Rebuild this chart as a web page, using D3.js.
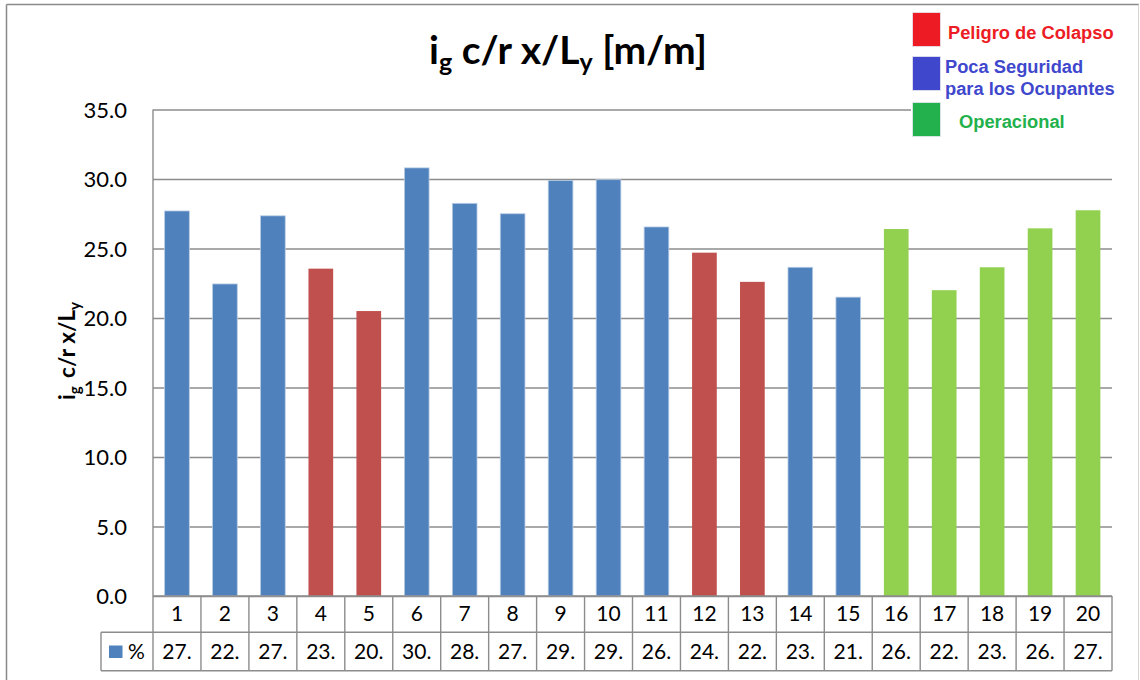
<!DOCTYPE html>
<html>
<head>
<meta charset="utf-8">
<script src="https://cdn.jsdelivr.net/npm/d3@7"></script>
<style>
  html, body { margin: 0; padding: 0; background: #fff; }
  svg { display: block; }
</style>
</head>
<body>
<svg id="chart" width="1140" height="680"></svg>
<script>
// ---------- data ----------
const categories = ["1","2","3","4","5","6","7","8","9","10","11","12","13","14","15","16","17","18","19","20"];
const values = [27.7, 22.45, 27.35, 23.55, 20.5, 30.8, 28.25, 27.5, 29.9, 29.95, 26.55, 24.7, 22.6, 23.65, 21.5, 26.4, 22.0, 23.65, 26.45, 27.75];
const tableLabels = ["27.","22.","27.","23.","20.","30.","28.","27.","29.","29.","26.","24.","22.","23.","21.","26.","22.","23.","26.","27."];
const status = ["poca","poca","poca","peligro","peligro","poca","poca","poca","poca","poca","poca","peligro","peligro","poca","poca","oper","oper","oper","oper","oper"];
const yTicks = [0, 5, 10, 15, 20, 25, 30, 35];
const legendLabels = [["Peligro de Colapso"], ["Poca Seguridad", "para los Ocupantes"], ["Operacional"]];
const seriesName = "%";

// ---------- styles ----------
const barColor = { peligro: "#C0504D", poca: "#4F81BD", oper: "#92D050" };
const legendColors = ["#ED1C24", "#3F48CC", "#22B14C"];
const gridColor = "#8c8c8c";
const font = "Lato, 'Open Sans', sans-serif";

const svg = d3.select("#chart");

// frame
svg.append("line").attr("x1", 6.5).attr("y1", 4.5).attr("x2", 1139).attr("y2", 4.5).attr("stroke", "#8a8a8a").attr("stroke-width", 1.5);
svg.append("line").attr("x1", 6.5).attr("y1", 4.5).attr("x2", 6.5).attr("y2", 680).attr("stroke", "#8a8a8a").attr("stroke-width", 1.5);
svg.append("line").attr("x1", 1138.5).attr("y1", 4.5).attr("x2", 1138.5).attr("y2", 680).attr("stroke", "#d4d4d4").attr("stroke-width", 1);

// scales
const pLeft = 153, pRight = 1112, pTop = 109.5, pBottom = 596;
const x = d3.scaleBand().domain(categories).range([pLeft, pRight]).paddingInner(0).paddingOuter(0);
const y = d3.scaleLinear().domain([0, 35]).range([pBottom, pTop]);

// gridlines via axis
const yAxis = d3.axisLeft(y).tickValues(yTicks).tickSize(-(pRight - pLeft)).tickFormat(d => d.toFixed(1)).tickPadding(26);
const gy = svg.append("g").attr("transform", `translate(${pLeft},0)`).call(yAxis);
gy.select(".domain").remove();
gy.selectAll(".tick line").attr("stroke", gridColor).attr("stroke-width", 1.4);
gy.selectAll(".tick text").attr("font-family", font).attr("font-size", 22).attr("fill", "#000").attr("dy", "0.36em");

// bars
const bw = x.bandwidth() * 0.515;
svg.append("g").selectAll("rect").data(values).join("rect")
  .attr("x", (d, i) => x(categories[i]) + (x.bandwidth() - bw) / 2)
  .attr("y", d => y(d))
  .attr("width", bw)
  .attr("height", d => y(0) - y(d))
  .attr("fill", (d, i) => barColor[status[i]])
  .attr("stroke", (d, i) => status[i] === "poca" ? "#b9cde5" : "none")
  .attr("stroke-width", 0.8);

// axis line at left (runs through table)
const tRow1 = 632.3, tRow2 = 670.7, tLeft = 101;
svg.append("line").attr("x1", pLeft).attr("x2", pLeft).attr("y1", pTop).attr("y2", tRow2).attr("stroke", gridColor).attr("stroke-width", 1.4);

// data table
const tbl = svg.append("g");
tbl.append("line").attr("x1", pLeft).attr("x2", pRight).attr("y1", pBottom).attr("y2", pBottom).attr("stroke", gridColor).attr("stroke-width", 1.4);
tbl.append("line").attr("x1", tLeft).attr("x2", pRight).attr("y1", tRow1).attr("y2", tRow1).attr("stroke", gridColor).attr("stroke-width", 1.4);
tbl.append("line").attr("x1", tLeft).attr("x2", pRight).attr("y1", tRow2).attr("y2", tRow2).attr("stroke", gridColor).attr("stroke-width", 1.4);
tbl.append("line").attr("x1", tLeft).attr("x2", tLeft).attr("y1", tRow1).attr("y2", tRow2).attr("stroke", gridColor).attr("stroke-width", 1.4);
tbl.selectAll("line.v").data(categories).join("line").attr("class", "v")
  .attr("x1", d => x(d) + x.bandwidth()).attr("x2", d => x(d) + x.bandwidth())
  .attr("y1", pBottom).attr("y2", tRow2).attr("stroke", gridColor).attr("stroke-width", 1.4);
tbl.selectAll("text.cat").data(categories).join("text").attr("class", "cat")
  .attr("x", d => x(d) + x.bandwidth() / 2).attr("y", 621)
  .attr("text-anchor", "middle").attr("font-family", font).attr("font-size", 21).text(d => d);
tbl.selectAll("text.val").data(tableLabels).join("text").attr("class", "val")
  .attr("x", (d, i) => x(categories[i]) + x.bandwidth() / 2).attr("y", 659)
  .attr("text-anchor", "middle").attr("font-family", font).attr("font-size", 21).text(d => d);
// legend key in table
tbl.append("rect").attr("x", 109).attr("y", 645.5).attr("width", 13.5).attr("height", 12.5).attr("fill", barColor.poca);
tbl.append("text").attr("x", 128).attr("y", 659).attr("font-family", font).attr("font-size", 21).text(seriesName);

// title
const title = svg.append("text").attr("x", 568).attr("y", 64).attr("text-anchor", "middle")
  .attr("font-family", font).attr("font-weight", "bold").attr("font-size", 39).attr("fill", "#000");
title.append("tspan").text("i");
title.append("tspan").attr("font-size", 25).attr("dy", 7).text("g");
title.append("tspan").attr("dy", -7).text(" c/r x/L");
title.append("tspan").attr("font-size", 25).attr("dy", 7).text("y");
title.append("tspan").attr("dy", -7).text(" [m/m]");

// y axis title
const yt = svg.append("text").attr("transform", "translate(75,351) rotate(-90)").attr("text-anchor", "middle")
  .attr("font-family", font).attr("font-weight", "bold").attr("font-size", 22.5).attr("fill", "#000");
yt.append("tspan").text("i");
yt.append("tspan").attr("font-size", 15).attr("dy", 4.5).text("g");
yt.append("tspan").attr("dy", -4.5).attr("dx", 3).text(" c/r x/L");
yt.append("tspan").attr("font-size", 15).attr("dy", 4.5).text("y");

// legend overlay
const lg = svg.append("g");
lg.append("rect").attr("x", 911).attr("y", 6).attr("width", 226).attr("height", 136).attr("fill", "#fff");
const sqY = [12.5, 56.5, 102.5];
lg.selectAll("rect.sq").data(legendColors).join("rect").attr("class", "sq")
  .attr("x", 912.5).attr("y", (d, i) => sqY[i]).attr("width", 28).attr("height", 34)
  .attr("fill", d => d).attr("stroke", "#e8e8f0").attr("stroke-width", 0.8);
const lgText = [
  { x: 948, y: 39, lines: legendLabels[0] },
  { x: 945, y: 73, lines: legendLabels[1] },
  { x: 959, y: 128, lines: legendLabels[2] }
];
lgText.forEach((t, i) => {
  const tx = lg.append("text").attr("x", t.x).attr("y", t.y)
    .attr("font-family", "'Liberation Sans', Arial, sans-serif").attr("font-weight", "bold").attr("font-size", 18.3)
    .attr("fill", legendColors[i]);
  t.lines.forEach((l, j) => tx.append("tspan").attr("x", t.x).attr("dy", j === 0 ? 0 : 21.5).text(l));
});
</script>
</body>
</html>
